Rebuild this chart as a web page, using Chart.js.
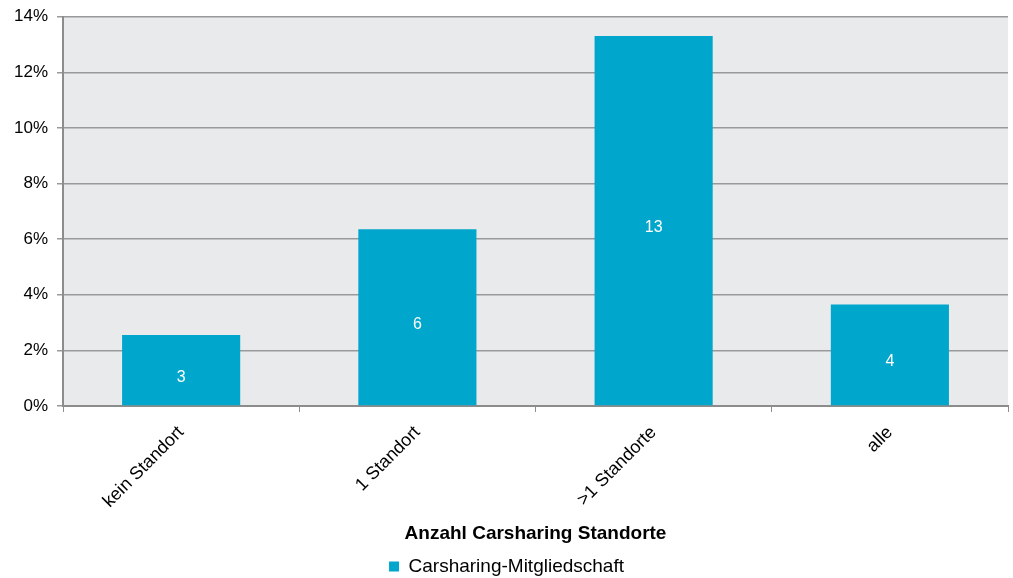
<!DOCTYPE html>
<html>
<head>
<meta charset="utf-8">
<script src="https://cdn.jsdelivr.net/npm/chart.js@4"></script>
<style>
  html, body { margin: 0; padding: 0; background: #fff; }
  #wrap { width: 1013px; height: 578px; }
</style>
</head>
<body>
<div id="wrap"><canvas id="bar-chart" width="1013" height="578"></canvas></div>
<script>
const categories = ["kein Standort", "1 Standort", ">1 Standorte", "alle"];
const membership = [2.55, 6.35, 13.3, 3.65]; // Prozent
const seriesName = "Carsharing-Mitgliedschaft";
const axisTitle = "Anzahl Carsharing Standorte";

Chart.defaults.font.family = '"Liberation Sans", Arial, sans-serif';
Chart.defaults.font.size = 17;
Chart.defaults.color = '#000';

// Hintergrund der Zeichenfläche
const plotBg = {
  id: 'plotBg',
  beforeDraw(chart) {
    const a = chart.chartArea, c = chart.ctx;
    c.save();
    c.fillStyle = '#E9EAEC';
    c.fillRect(a.left, a.top, a.right - a.left, a.bottom - a.top);
    c.restore();
  }
};

// Werte in der Mitte der Balken
const barLabels = {
  id: 'barLabels',
  afterDatasetsDraw(chart) {
    const c = chart.ctx;
    const meta = chart.getDatasetMeta(0);
    c.save();
    c.fillStyle = '#fff';
    c.font = '16px "Liberation Sans", Arial, sans-serif';
    c.textAlign = 'center';
    c.textBaseline = 'middle';
    meta.data.forEach((bar, i) => {
      const y = (bar.y + bar.base) / 2 + 7;
      c.fillText(String(Math.round(membership[i])), bar.x, y);
    });
    c.restore();
  }
};

const ctx = document.getElementById("bar-chart");
new Chart(ctx, {
  type: 'bar',
  data: {
    labels: categories,
    datasets: [{
      label: seriesName,
      data: membership,
      backgroundColor: '#00A6CB',
      borderWidth: 0,
      categoryPercentage: 1,
      barPercentage: 0.5
    }]
  },
  options: {
    responsive: false,
    animation: false,
    layout: { padding: { top: 4, right: 5, left: 5, bottom: -8 } },
    scales: {
      x: {
        grid: {
          offset: true,
          drawOnChartArea: false,
          drawTicks: true,
          tickLength: 6,
          color: '#8C8C8C',
          lineWidth: 1
        },
        border: { color: '#8C8C8C', width: 2 },
        ticks: { minRotation: 45, maxRotation: 45, padding: 10, font: { size: 18 } },
        title: {
          display: true,
          text: axisTitle,
          font: { size: 19, weight: 'bold' },
          padding: { top: 0, bottom: 12 }
        }
      },
      y: {
        min: 0,
        max: 14,
        ticks: {
          stepSize: 2,
          padding: 9,
          font: { size: 17, lineHeight: 0.9 },
          callback: v => v + '%'
        },
        grid: {
          color: '#999999',
          lineWidth: 1.5,
          drawTicks: true,
          tickLength: 6
        },
        border: { color: '#8C8C8C', width: 2 }
      }
    },
    plugins: {
      legend: {
        position: 'bottom',
        labels: {
          boxWidth: 10,
          boxHeight: 10,
          padding: 0,
          font: { size: 19 }
        }
      },
      tooltip: { enabled: false }
    }
  },
  plugins: [plotBg, barLabels]
});
</script>
</body>
</html>
